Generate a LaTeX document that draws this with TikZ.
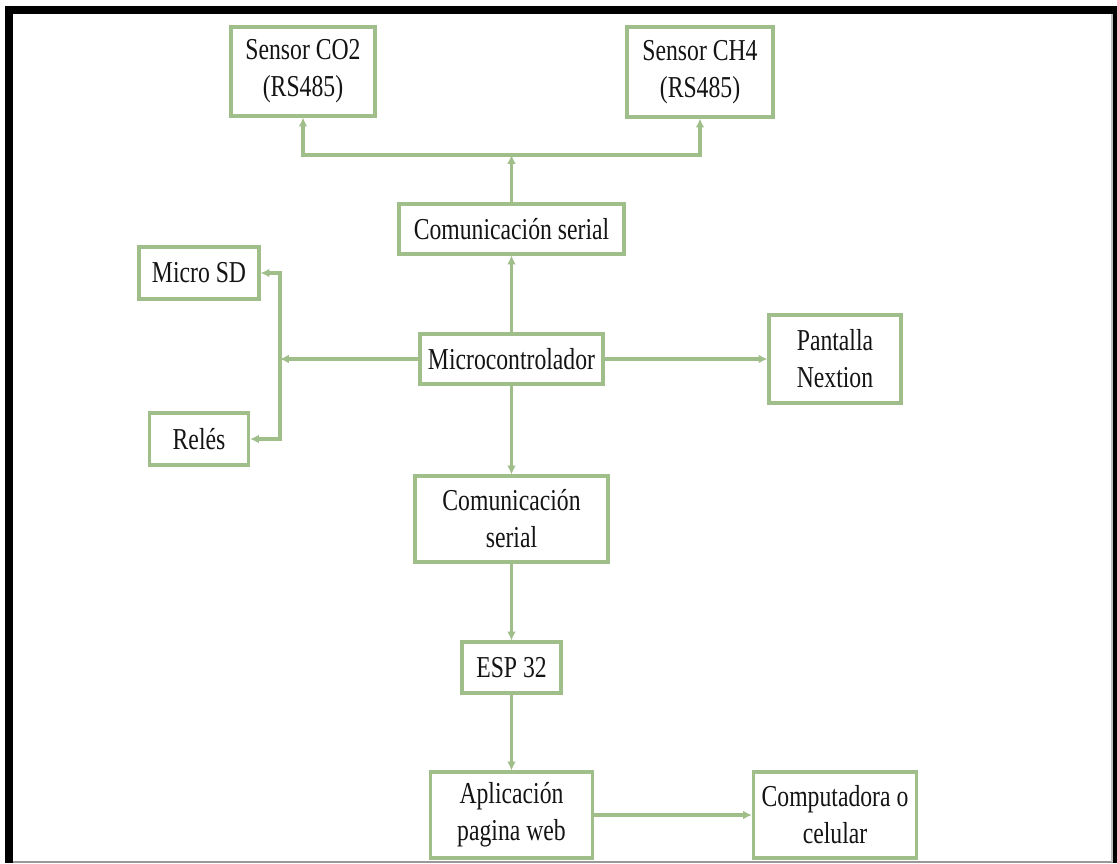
\documentclass[tikz,border=0pt]{standalone}
\usepackage{fontspec}
\setmainfont{Liberation Serif}[FakeStretch=0.78]
\usetikzlibrary{arrows.meta, positioning, calc}
\definecolor{verde}{RGB}{160,190,138}
\definecolor{texto}{RGB}{20,20,20}
\tikzstyle{caja}   = [rectangle, draw=verde, line width=0.08cm, fill=white,
                      align=center, inner sep=0pt, text=texto,
                      font=\fontsize{21.6pt}{26.3pt}\selectfont]
\tikzstyle{flecha} = [draw=verde, line width=0.08cm,
                      -{Latex[length=0.22cm, width=0.22cm]}]

\begin{document}
\begin{tikzpicture}[x=0.025cm, y=-0.025cm]

  % --- Fondo y marco ---
  \useasboundingbox (0,0) rectangle (1117,863);
  \fill[white] (0,0) rectangle (1117,863);
  \fill[black] (5,6) rectangle (1117,14);
  \fill[black] (5,6) rectangle (13,863);
  \fill[black] (1113,6) rectangle (1117,863);
  \draw[gray!80, line width=0.05cm] (13,862) -- (1113,862);
  \draw[gray!50, line width=0.03cm] (1112,14) -- (1112,862);

  % --- Sensores ---
  \node (co2) [caja, minimum width=3.6cm,  minimum height=2.225cm] at (303,71.5)
              {Sensor CO2\\(RS485)};
  \node (ch4) [caja, minimum width=3.65cm, minimum height=2.25cm]  at (700,72)
              {Sensor CH4\\(RS485)};
  \node (serial_a) [caja, minimum width=5.625cm, minimum height=1.25cm] at (511.5,229)
              {Comunicación serial};

  % --- Microcontrolador ---
  \node (microsd) [caja, minimum width=3cm,     minimum height=1.3cm]  at (199,273)   {Micro SD};
  \node (mcu)     [caja, minimum width=4.575cm, minimum height=1.25cm] at (511.5,359) {Microcontrolador};
  \node (nextion) [caja, minimum width=3.3cm,   minimum height=2.2cm]  at (835,359)
                  {Pantalla\\Nextion};
  \node (reles)   [caja, minimum width=2.475cm, minimum height=1.3cm]  at (199,439)   {Relés};

  % --- Salida web ---
  \node (serial_b) [caja, minimum width=4.825cm, minimum height=2.15cm]  at (511.5,519)
                   {Comunicación\\serial};
  \node (esp)      [caja, minimum width=2.475cm, minimum height=1.275cm] at (511.5,667.5) {ESP 32};
  \node (app)      [caja, minimum width=4.05cm,  minimum height=2.15cm]  at (511.5,815)
                   {Aplicación\\pagina web};
  \node (pc)       [caja, minimum width=4.075cm, minimum height=2.15cm]  at (835,815)
                   {Computadora o\\celular};

  % Puntos de union
  \coordinate (union_s) at (511.5,155);
  \coordinate (union_m) at (280,359);

  % Flechas
  \draw[flecha] (serial_a.north) -- (union_s);
  \draw[flecha] (union_s) -| (co2.south);
  \draw[flecha] (union_s) -| (ch4.south);
  \draw[flecha] (mcu.north) -- (serial_a.south);
  \draw[flecha] (mcu.west) -- (union_m);
  \draw[flecha] (union_m) |- (microsd.east);
  \draw[flecha] (union_m) |- (reles.east);
  \draw[flecha] (mcu.east) -- (nextion.west);
  \draw[flecha] (mcu.south) -- (serial_b.north);
  \draw[flecha] (serial_b.south) -- (esp.north);
  \draw[flecha] (esp.south) -- (app.north);
  \draw[flecha] (app.east) -- (pc.west);

\end{tikzpicture}
\end{document}
